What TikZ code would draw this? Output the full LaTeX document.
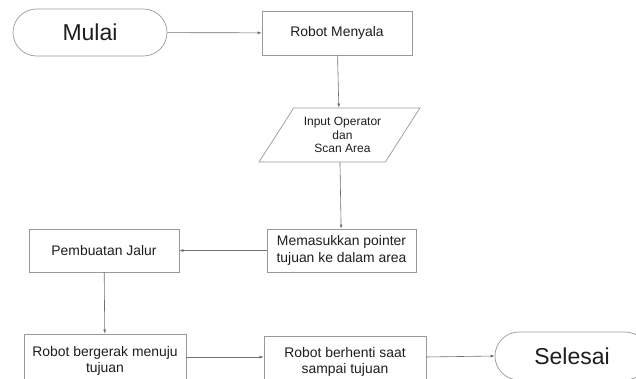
\documentclass[tikz,border=0pt]{standalone}
\usepackage{fontspec}
\setmainfont{Liberation Sans}
\usetikzlibrary{shapes.geometric,shapes.misc,arrows.meta}
\definecolor{boxline}{HTML}{9A9A9A}
\definecolor{conn}{HTML}{707070}
\definecolor{txt}{HTML}{1E1E1E}
\begin{document}
\begin{tikzpicture}[x=1pt,y=-1pt,
  procbox/.style={draw=boxline, line width=0.7pt, rectangle, inner sep=0pt, align=center, text=txt,
    font=\fontsize{13.9}{16.7}\selectfont},
  termbox/.style={draw=boxline, line width=0.7pt, rounded rectangle, inner sep=0pt, text=txt,
    font=\fontsize{23}{27}\selectfont},
  iobox/.style={draw=boxline, line width=0.7pt, trapezium, trapezium left angle=48, trapezium right angle=132,
    trapezium stretches=true, inner sep=0pt, align=center, text=txt,
    font=\fontsize{12}{13.3}\selectfont},
  flow/.style={draw=conn, line width=0.6pt, -{Latex[length=4pt,width=3pt]}}]
\clip (0,0) rectangle (636,379);
\fill[white] (0,0) rectangle (636,379);
\node[termbox, minimum width=154, minimum height=47] (mulai) at (90,32.5) {Mulai};
\node[procbox, minimum width=150, minimum height=44] (rm) at (337,33) {Robot Menyala};
\node[iobox, minimum width=161, minimum height=54] (inp) at (339.5,135) {\hspace*{6pt}Input Operator\\\hspace*{6pt}dan\\\hspace*{6pt}Scan Area};
\node[procbox, minimum width=149, minimum height=43] (mem) at (341.5,250.5) {Memasukkan pointer\\tujuan ke dalam area};
\node[procbox, minimum width=150, minimum height=43] (pemb) at (104,250.5) {Pembuatan Jalur};
\node[procbox, minimum width=162, minimum height=54] (rb) at (105,361) {Robot bergerak menuju\\tujuan};
\node[procbox, minimum width=162, minimum height=52] (rbh) at (345,362) {Robot berhenti saat\\sampai tujuan};
\node[termbox, minimum width=154, minimum height=48] (sel) at (572,356) {Selesai};
\draw[flow] (mulai) -- (rm);
\draw[flow] (rm) -- (inp);
\draw[flow] (inp) -- (mem);
\draw[flow] (mem) -- (pemb);
\draw[flow] (pemb) -- (rb);
\draw[flow] (rb.east |- 0,357) -- (rbh.west |- 0,357);
\draw[flow] (rbh.east |- 0,357) -- (sel.west);
\end{tikzpicture}
\end{document}
